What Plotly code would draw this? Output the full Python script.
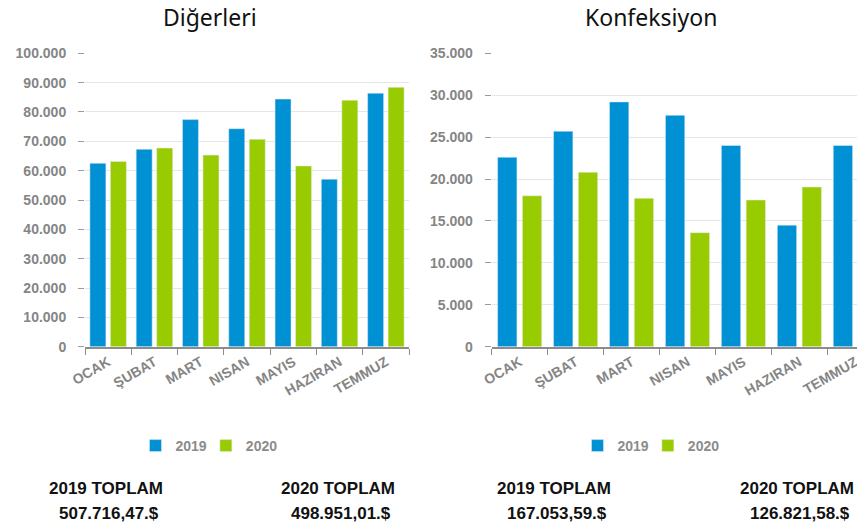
import plotly.graph_objects as go

months = ["OCAK", "ŞUBAT", "MART", "NISAN", "MAYIS", "HAZIRAN", "TEMMUZ"]

# Diğerleri (left chart)
diger_2019 = [62500, 67300, 77400, 74300, 84400, 57100, 86400]
diger_2020 = [63100, 67700, 65300, 70700, 61600, 84000, 88400]

# Konfeksiyon (right chart) - last 2020 bar is cut off at the page edge
konf_2019 = [22600, 25700, 29200, 27600, 24000, 14500, 24000]
konf_2020 = [18000, 20800, 17700, 13600, 17500, 19050, 20100]

totals_labels = ["2019 TOPLAM", "2020 TOPLAM", "2019 TOPLAM", "2020 TOPLAM"]
totals_values = ["507.716,47.$", "498.951,01.$", "167.053,59.$", "126.821,58.$"]
totals_x = [106, 338, 554, 797]

BLUE = "#0090d4"
GREEN = "#99cc00"
GRAY = "#858585"
W, H = 857, 524

fig = go.Figure()
for name, vals, color in [("2019", diger_2019, BLUE), ("2020", diger_2020, GREEN)]:
    fig.add_trace(go.Bar(x=months, y=vals, name=name, marker_color=color,
                         xaxis="x", yaxis="y", legend="legend"))
for name, vals, color in [("2019", konf_2019, BLUE), ("2020", konf_2020, GREEN)]:
    fig.add_trace(go.Bar(x=months, y=vals, name=name, marker_color=color,
                         xaxis="x2", yaxis="y2", legend="legend2"))

tick_font = dict(family="Liberation Sans, Arial", size=14, color=GRAY, weight="bold")
y_top = 1 - 53.3 / H
y_bot = 1 - 346.7 / H

xcommon = dict(type="category", showline=True, linecolor="#8c8c8c", linewidth=2,
               ticks="outside", tickson="boundaries", ticklen=6, tickcolor="#8c8c8c",
               tickangle=-30, tickfont=tick_font, showgrid=False, fixedrange=True,
               automargin=False)
ycommon = dict(showgrid=True, gridcolor="#e6e6e6", gridwidth=1, zeroline=False,
               ticks="outside", ticklen=6, tickcolor="#9a9a9a", tickformat=",d",
               tickfont=tick_font, ticklabelstandoff=9, domain=[y_bot, y_top],
               automargin=False, fixedrange=True)

legend_font = dict(family="Liberation Sans, Arial", size=14, color="#8c8c8c", weight="bold")

fig.update_layout(
    width=W, height=H,
    margin=dict(l=0, r=0, t=0, b=0),
    paper_bgcolor="white", plot_bgcolor="white",
    separators=",.",
    barmode="group", bargap=0.114, bargroupgap=0.22,
    xaxis=dict(domain=[85 / W, 409 / W], range=[-0.5, 6.5], anchor="y", **xcommon),
    yaxis=dict(range=[0, 100000], dtick=10000, anchor="x", **ycommon),
    xaxis2=dict(domain=[491.7 / W, 1.0], range=[-0.5, 6.03], anchor="y2", **xcommon),
    yaxis2=dict(range=[0, 35000], dtick=5000, anchor="x2", **ycommon),
    legend=dict(orientation="h", x=212 / W, xanchor="center", y=1 - 446 / H, yanchor="middle",
                font=legend_font, itemwidth=30, indentation=-6),
    legend2=dict(orientation="h", x=654 / W, xanchor="center", y=1 - 446 / H, yanchor="middle",
                 font=legend_font, itemwidth=30, indentation=-6),
    showlegend=True,
)

# chart titles
for text, cx in [("Diğerleri", 210), ("Konfeksiyon", 651)]:
    fig.add_annotation(text=text, x=cx / W, y=1 - 17 / H, xref="paper", yref="paper",
                       xanchor="center", yanchor="middle", showarrow=False,
                       font=dict(family="Noto Sans", size=23, color="#111111"))

# yearly totals under the charts
for label, value, cx in zip(totals_labels, totals_values, totals_x):
    fig.add_annotation(text=label, x=cx / W, y=1 - 488 / H, xref="paper", yref="paper",
                       xanchor="center", yanchor="middle", showarrow=False,
                       font=dict(family="Liberation Sans, Arial", size=17,
                                 color="#111111", weight="bold"))
    fig.add_annotation(text=value, x=(cx + 3) / W, y=1 - 513 / H, xref="paper", yref="paper",
                       xanchor="center", yanchor="middle", showarrow=False,
                       font=dict(family="Liberation Sans, Arial", size=17,
                                 color="#111111", weight="bold"))

# the page body has a default 8px margin; drop it so the figure sits at the corner
fig.write_html("out.html", config={"displayModeBar": False},
               post_script="document.body.style.margin='0';")
